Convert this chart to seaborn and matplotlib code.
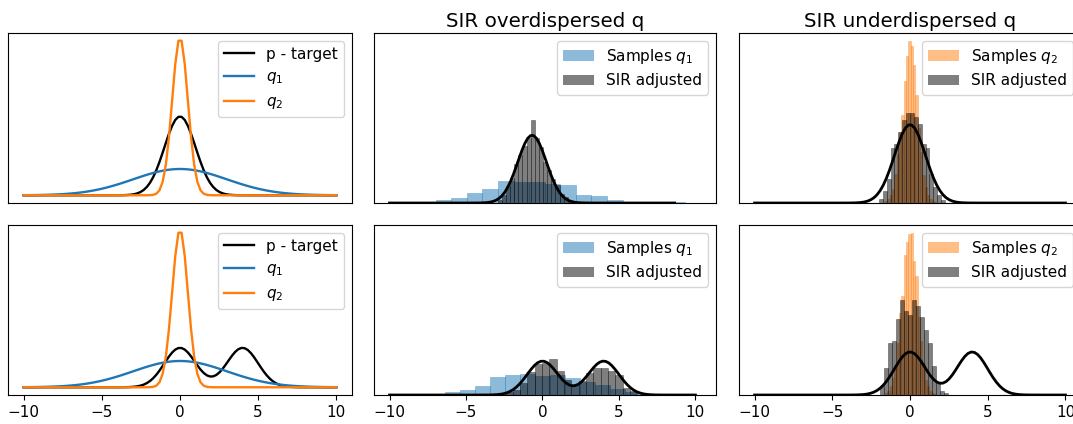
import numpy as np
import pandas as pd
import matplotlib
matplotlib.use("Agg")
import matplotlib.pyplot as plt
import seaborn as sns
from matplotlib.colors import to_rgba

# ---------------- data ----------------
x_min, x_max, n_grid = -10.0, 10.0, 100

# target p (top: single Gaussian, bottom: two-component mixture)
p_top_weights = [1.0]
p_top_means = [0.0]
p_top_sds = [1.0]
p_bot_weights = [0.5, 0.5]
p_bot_means = [0.0, 4.0]
p_bot_sds = [1.0, 1.0]

# proposals
q1_weights, q1_means, q1_sds = [1.0], [0.0], [3.0]
q2_weights, q2_means, q2_sds = [1.0], [0.0], [0.5]

# --- top row, middle: samples q1 and SIR adjusted (densities per bin)
top_q1_edges = [-6.77, -5.68, -4.58, -3.49, -2.40, -1.30, -0.21, 0.88, 1.97,
                3.07, 4.16, 5.25, 6.35, 7.44, 8.53, 9.63, 10.72, 11.81]
top_q1_heights = [0.020, 0.028, 0.056, 0.080, 0.128, 0.124, 0.124, 0.110, 0.106,
                  0.050, 0.044, 0.020, 0.008, 0.000, 0.000, 0.004, 0.002]
top_sir1_edges = [-2.42, -2.13, -1.84, -1.55, -1.26, -0.97, -0.68, -0.39, -0.10,
                  0.19, 0.48, 0.77, 1.06, 1.35, 1.64, 1.93, 2.22, 2.51, 2.80]
top_sir1_heights = [0.020, 0.050, 0.100, 0.150, 0.228, 0.284, 0.338, 0.384, 0.488,
                    0.380, 0.330, 0.244, 0.194, 0.144, 0.104, 0.054, 0.034, 0.014]

# --- top row, right: samples q2 and SIR adjusted
top_q2_edges = [-1.61, -1.46, -1.31, -1.16, -1.01, -0.86, -0.71, -0.56, -0.41,
                -0.26, -0.11, 0.04, 0.19, 0.34, 0.49, 0.64, 0.79, 0.94, 1.09,
                1.24, 1.39, 1.54, 1.69]
top_q2_heights = [0.010, 0.020, 0.040, 0.070, 0.150, 0.250, 0.360, 0.450, 0.620,
                  0.750, 0.824, 0.800, 0.700, 0.550, 0.380, 0.260, 0.140, 0.080,
                  0.040, 0.020, 0.010, 0.004]
top_sir2_edges = [-2.00, -1.75, -1.50, -1.25, -1.00, -0.75, -0.50, -0.25, 0.00,
                  0.25, 0.50, 0.75, 1.00, 1.25, 1.50, 1.75, 2.00, 2.25]
top_sir2_heights = [0.020, 0.060, 0.120, 0.280, 0.300, 0.360, 0.420, 0.460, 0.460,
                    0.440, 0.400, 0.300, 0.280, 0.150, 0.080, 0.040, 0.015]

# --- bottom row, middle
bot_q1_edges = [-6.37, -5.39, -4.41, -3.42, -2.44, -1.46, -0.48, 0.51, 1.49,
                2.47, 3.45, 4.44, 5.42, 6.40, 7.38, 8.36, 9.35, 10.33]
bot_q1_heights = [0.016, 0.030, 0.054, 0.107, 0.118, 0.122, 0.112, 0.118, 0.100,
                  0.077, 0.057, 0.034, 0.017, 0.006, 0.002, 0.000, 0.001]
bot_sir1_edges = [-2.44, -1.96, -1.48, -1.00, -0.52, -0.04, 0.44, 0.92, 1.40,
                  1.88, 2.36, 2.84, 3.32, 3.80, 4.28, 4.76, 5.24, 5.72, 6.20]
bot_sir1_heights = [0.016, 0.030, 0.070, 0.136, 0.180, 0.190, 0.214, 0.140, 0.090,
                    0.060, 0.084, 0.130, 0.160, 0.160, 0.144, 0.116, 0.040, 0.024]

# --- bottom row, right
bot_q2_edges = top_q2_edges
bot_q2_heights = [0.010, 0.020, 0.040, 0.080, 0.140, 0.240, 0.380, 0.460, 0.650,
                  0.710, 0.745, 0.750, 0.620, 0.550, 0.360, 0.250, 0.150, 0.070,
                  0.040, 0.020, 0.010, 0.005]
bot_sir2_edges = [-1.95, -1.69, -1.43, -1.17, -0.91, -0.65, -0.39, -0.13, 0.13,
                  0.39, 0.65, 0.91, 1.17, 1.43, 1.69, 1.95, 2.21, 2.47]
bot_sir2_heights = [0.040, 0.127, 0.240, 0.250, 0.350, 0.440, 0.390, 0.370, 0.440,
                    0.410, 0.360, 0.300, 0.240, 0.135, 0.060, 0.020, 0.010]

x_ticks = [-10, -5, 0, 5, 10]
titles = ["", "SIR overdispersed q", "SIR underdispersed q"]

# ---------------- helpers ----------------
def mixture_pdf(x, w, m, s):
    x = np.asarray(x)[:, None]
    w, m, s = (np.asarray(v, float)[None, :] for v in (w, m, s))
    return (w * np.exp(-0.5 * ((x - m) / s) ** 2) / (s * np.sqrt(2 * np.pi))).sum(axis=1)


def draw_hist(ax, edges, heights, color, label):
    edges = [float(e) for e in edges]
    centers = [0.5 * (a + b) for a, b in zip(edges[:-1], edges[1:])]
    df = pd.DataFrame({"x": centers, "w": [float(h) for h in heights]})
    sns.histplot(data=df, x="x", weights="w", bins=edges, stat="count",
                 color=color, alpha=0.5, edgecolor=to_rgba(color, 0.45),
                 linewidth=0.5, label=label, ax=ax)


def make_legend(ax, patches=False):
    leg = ax.legend(loc="upper right", fontsize=11)
    if patches:
        for h in leg.legend_handles:
            h.set_edgecolor("none")
    return leg


# ---------------- figure ----------------
W, H = 1073, 424
fig = plt.figure(figsize=(W / 100, H / 100), dpi=100)
col_px = [(8, 344), (374, 342), (739, 342)]
row_px = [(33, 170), (225, 170)]
axes = [[fig.add_axes([cx / W, 1 - (ry + rh) / H, cw / W, rh / H])
         for (cx, cw) in col_px] for (ry, rh) in row_px]

grid = np.linspace(x_min, x_max, n_grid)
p_rows = [mixture_pdf(grid, p_top_weights, p_top_means, p_top_sds),
          mixture_pdf(grid, p_bot_weights, p_bot_means, p_bot_sds)]
q1 = mixture_pdf(grid, q1_weights, q1_means, q1_sds)
q2 = mixture_pdf(grid, q2_weights, q2_means, q2_sds)

hist_data = [
    [(top_q1_edges, top_q1_heights, top_sir1_edges, top_sir1_heights),
     (top_q2_edges, top_q2_heights, top_sir2_edges, top_sir2_heights)],
    [(bot_q1_edges, bot_q1_heights, bot_sir1_edges, bot_sir1_heights),
     (bot_q2_edges, bot_q2_heights, bot_sir2_edges, bot_sir2_heights)],
]

for r in range(2):
    p = p_rows[r]
    # left: densities
    ax = axes[r][0]
    sns.lineplot(x=grid, y=p, color="k", lw=1.7, label="p - target", ax=ax)
    sns.lineplot(x=grid, y=q1, color="C0", lw=1.7, label="$q_1$", ax=ax)
    sns.lineplot(x=grid, y=q2, color="C1", lw=1.7, label="$q_2$", ax=ax)
    make_legend(ax)

    # middle: overdispersed
    e1, h1, e2, h2 = hist_data[r][0]
    ax = axes[r][1]
    draw_hist(ax, e1, h1, "C0", "Samples $q_1$")
    draw_hist(ax, e2, h2, "k", "SIR adjusted")
    sns.lineplot(x=grid, y=p, color="k", lw=2, ax=ax)
    ax.set_ylim(0, 1.0)
    make_legend(ax, patches=True)

    # right: underdispersed
    e1, h1, e2, h2 = hist_data[r][1]
    ax = axes[r][2]
    draw_hist(ax, e1, h1, "C1", "Samples $q_2$")
    draw_hist(ax, e2, h2, "k", "SIR adjusted")
    sns.lineplot(x=grid, y=p, color="k", lw=2, ax=ax)
    make_legend(ax, patches=True)

for r in range(2):
    for c in range(3):
        ax = axes[r][c]
        ax.set_ylabel("")
        ax.set_xlabel("")
        ax.set_yticks([])
        if r == 0:
            ax.set_xticks([])
        else:
            ax.set_xticks(x_ticks)
            ax.tick_params(labelsize=11)
        if r == 0 and titles[c]:
            ax.set_title(titles[c], fontsize=14.3, pad=4.5)

fig.savefig("out.png", dpi=100)
